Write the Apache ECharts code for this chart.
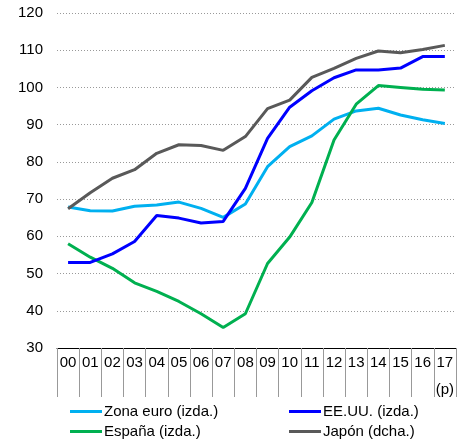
<!DOCTYPE html>
<html>
<head>
<meta charset="utf-8">
<script src="https://cdn.jsdelivr.net/npm/echarts@6/dist/echarts.min.js"></script>
<style>
  html, body { margin: 0; padding: 0; background: #fff; }
  #chart { width: 457px; height: 439px; }
</style>
</head>
<body>
<div id="chart"></div>
<script>
// años (2017 = previsión)
const years = ['00', '01', '02', '03', '04', '05', '06', '07', '08', '09',
  '10', '11', '12', '13', '14', '15', '16', '17']

const zonaEuro = [67.9, 66.9, 66.8, 68.1, 68.4, 69.2, 67.5, 65.1, 68.7, 78.7,
  84.1, 87.0, 91.5, 93.7, 94.4, 92.6, 91.3, 90.3]
const eeuu = [53.0, 53.0, 55.3, 58.6, 65.6, 64.9, 63.6, 64.0, 72.9, 86.3,
  94.7, 99.1, 102.6, 104.7, 104.7, 105.2, 108.3, 108.3]
const espana = [58.0, 54.4, 51.4, 47.5, 45.2, 42.5, 39.2, 35.5, 39.2, 52.7,
  59.8, 69.1, 85.9, 95.5, 100.5, 100.0, 99.5, 99.3]
// Japón va en el eje derecho (no rotulado), en unidades del gráfico
const japon = [67.4, 71.7, 75.6, 77.9, 82.3, 84.6, 84.4, 83.1, 86.8, 94.3,
  96.6, 102.7, 105.1, 107.8, 109.8, 109.3, 110.2, 111.3]

const FONT = 'Liberation Sans'

function line (name, data, color, axis) {
  return {
    name,
    type: 'line',
    data,
    yAxisIndex: axis,
    symbol: 'none',
    lineStyle: { width: 3, color },
    itemStyle: { color }
  }
}

// una leyenda por elemento, para colocarlas en dos columnas
function legendItem (name, left, top) {
  return {
    left,
    top,
    icon: 'rect',
    itemWidth: 32,
    itemHeight: 3,
    textStyle: { color: '#000', fontSize: 15, padding: [0, 0, 0, -3] },
    data: [name]
  }
}

const chart = echarts.init(document.getElementById('chart'))
chart.setOption({
  animation: false,
  textStyle: { fontFamily: FONT },
  grid: { left: 57, right: 1, top: 13, bottom: 91 },
  xAxis: {
    type: 'category',
    data: years,
    boundaryGap: true,
    axisLine: { show: true, lineStyle: { color: '#000', width: 1 } },
    axisTick: {
      show: true,
      interval: 0,
      alignWithLabel: false,
      length: 49,
      lineStyle: { color: '#999', width: 1 }
    },
    axisLabel: {
      interval: 0,
      hideOverlap: false,
      color: '#000',
      fontSize: 15,
      margin: 8,
      lineHeight: 13.5,
      formatter: v => v === '17' ? '17\n\n(p)' : v
    }
  },
  yAxis: [{
    type: 'value',
    min: 30,
    max: 120,
    interval: 10,
    axisLine: { show: false },
    axisTick: { show: false },
    axisLabel: { color: '#000', fontSize: 15, margin: 14 },
    splitLine: { lineStyle: { color: '#999', type: [1, 2] } }
  }, {
    type: 'value',
    min: 30,
    max: 120,
    interval: 10,
    show: false
  }],
  legend: [
    legendItem('Zona euro (izda.)', 65, 399),
    legendItem('España (izda.)', 65, 419),
    legendItem('EE.UU. (izda.)', 284, 399),
    legendItem('Japón (dcha.)', 284, 419)
  ],
  series: [
    line('Zona euro (izda.)', zonaEuro, '#00B0F0', 0),
    line('España (izda.)', espana, '#00B050', 0),
    line('Japón (dcha.)', japon, '#595959', 1),
    line('EE.UU. (izda.)', eeuu, '#0000FF', 0)
  ]
})
</script>
</body>
</html>
